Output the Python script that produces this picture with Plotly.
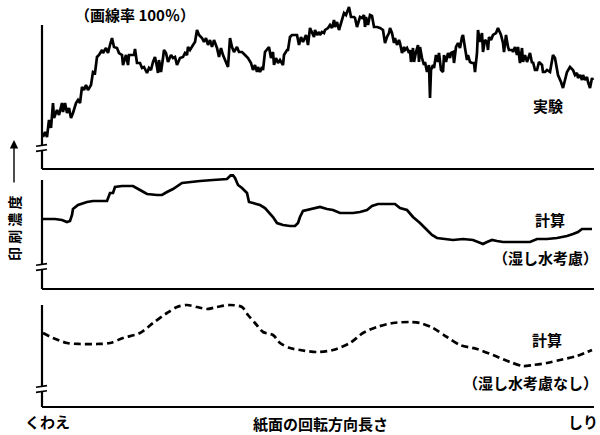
import plotly.graph_objects as go

# Position along the paper rotation direction (mm from the gripper edge)
exp_x = [1, 3, 5, 7, 9, 11, 12, 15, 17, 20, 21, 23, 25, 27, 29, 31, 34, 36, 38, 40,
         42, 44, 46, 49, 51, 53, 55, 57, 60, 61, 64, 66, 68, 70, 72, 75, 77, 80, 81, 84,
         86, 87, 90, 92, 93, 95, 98, 100, 102, 105, 107, 109, 111, 113, 115, 116, 117, 119, 121, 122,
         124, 126, 129, 131, 133, 135, 138, 141, 143, 145, 146, 148, 151, 153, 155, 157, 160, 162, 164, 166,
         168, 170, 172, 175, 177, 179, 181, 184, 186, 188, 190, 192, 195, 197, 200, 203, 206, 209, 211, 213,
         215, 216, 218, 220, 221, 223, 225, 227, 229, 231, 232, 234, 236, 238, 241, 242, 245, 246, 248, 250,
         253, 255, 257, 259, 261, 264, 266, 268, 272, 273, 275, 277, 278, 280, 282, 283, 286, 288, 290, 292,
         293, 295, 297, 298, 301, 302, 304, 307, 308, 309, 312, 313, 315, 317, 318, 320, 322, 323, 324, 326,
         328, 330, 332, 335, 338, 341, 343, 345, 347, 348, 350, 352, 353, 355, 357, 358, 360, 362, 363, 365,
         367, 368, 369, 371, 372, 374, 376, 377, 378, 380, 382, 383, 385, 387, 388, 389, 391, 392, 394, 396,
         397, 399, 401, 402, 404, 406, 408, 409, 411, 412, 414, 416, 418, 420, 421, 423, 425, 426, 428, 430,
         432, 433, 435, 436, 438, 440, 441, 443, 445, 446, 447, 449, 451, 454, 456, 459, 461, 462, 464, 466,
         467, 470, 471, 473, 475, 476, 478, 480, 481, 483, 485, 488, 490, 491, 493, 495, 497, 500, 501, 503,
         505, 508, 510, 511, 513, 515, 516, 519, 521, 523, 525, 528, 531, 533, 535, 536, 538, 540, 541, 543,
         545, 546, 548, 550, 551]
# Measured print density (arbitrary units)
exp_y = [32, 37, 32, 49, 41, 66, 51, 59, 54, 66, 57, 66, 56, 61, 51, 56, 66, 69, 66, 82,
         79, 84, 79, 84, 97, 96, 112, 114, 119, 116, 121, 116, 124, 131, 122, 121, 116, 114, 104, 114,
         104, 114, 114, 114, 120, 106, 106, 101, 102, 96, 101, 99, 107, 112, 102, 96, 109, 97, 111, 119,
         116, 107, 114, 111, 112, 104, 111, 112, 116, 114, 122, 119, 124, 127, 139, 134, 131, 127, 131, 124,
         129, 122, 129, 121, 112, 121, 114, 107, 102, 131, 122, 117, 122, 117, 117, 114, 111, 106, 99, 104,
         97, 102, 97, 102, 99, 117, 119, 122, 111, 117, 104, 111, 106, 109, 104, 114, 119, 119, 132, 134,
         134, 134, 124, 132, 127, 134, 124, 141, 132, 139, 134, 137, 134, 137, 136, 139, 141, 144, 141, 149,
         142, 147, 139, 142, 151, 156, 154, 162, 157, 152, 152, 151, 142, 149, 152, 151, 154, 142, 152, 144,
         154, 153, 142, 142, 141, 139, 126, 132, 136, 141, 136, 126, 131, 124, 129, 126, 116, 122, 119, 121,
         116, 119, 107, 121, 107, 117, 124, 107, 122, 111, 104, 107, 97, 104, 71, 99, 104, 101, 114, 107,
         116, 99, 97, 114, 107, 116, 111, 116, 117, 106, 122, 126, 121, 132, 134, 121, 109, 114, 107, 106,
         106, 97, 116, 139, 127, 136, 117, 129, 127, 119, 132, 129, 134, 136, 141, 134, 126, 117, 134, 122,
         119, 119, 117, 122, 114, 122, 106, 121, 107, 114, 107, 116, 106, 107, 99, 99, 107, 104, 97, 97,
         99, 97, 107, 114, 111, 97, 94, 87, 81, 89, 97, 102, 99, 94, 96, 91, 94, 89, 94, 89,
         92, 87, 81, 91, 89]

# Calculated density, dampening water taken into account
calc_w_x = [1, 13, 20, 25, 28, 30, 31, 36, 45, 51, 65, 68, 71, 73, 80, 91, 98, 105, 115, 120,
            125, 131, 140, 148, 158, 171, 185, 190, 193, 196, 200, 205, 207, 211, 218, 223, 228, 231, 235, 241,
            248, 253, 256, 258, 261, 265, 271, 278, 285, 291, 298, 305, 311, 318, 325, 330, 336, 345, 353, 358,
            365, 371, 378, 385, 390, 395, 401, 411, 421, 431, 436, 441, 445, 450, 455, 461, 468, 478, 488, 495,
            505, 515, 525, 531, 536, 540, 545, 550]
calc_w_y = [70, 70, 69, 67, 68, 74, 80, 84, 87, 88, 88, 96, 96, 102, 103, 103, 99, 95, 94, 94,
            97, 100, 106, 107, 108, 109, 110, 115, 111, 104, 101, 96, 87, 86, 84, 81, 76, 72, 66, 64,
            63, 63, 66, 72, 78, 79, 81, 82, 80, 79, 76, 76, 76, 77, 79, 83, 85, 85, 85, 81,
            79, 72, 66, 59, 54, 51, 50, 49, 50, 49, 47, 45, 47, 49, 48, 47, 47, 47, 47, 50,
            50, 51, 53, 55, 57, 60, 60, 60]

# Calculated density, dampening water not taken into account
calc_n_x = [1, 11, 25, 38, 55, 68, 81, 98, 111, 125, 135, 145, 155, 165, 175, 188, 200, 206, 213, 221,
            231, 238, 248, 258, 275, 291, 308, 321, 335, 351, 368, 378, 391, 405, 418, 435, 451, 468, 481, 491,
            505, 518, 535, 550]
calc_n_y = [74, 69, 64, 63, 63, 64, 69, 74, 84, 94, 100, 102, 100, 98, 100, 102, 100, 92, 84, 75,
            72, 64, 59, 57, 55, 57, 64, 74, 80, 84, 85, 84, 79, 70, 62, 58, 52, 45, 41, 42,
            44, 47, 51, 57]

W, H = 600, 435
X_LEFT, X_RIGHT = 42, 594          # horizontal extent of every panel (px)
X_MAX = X_RIGHT - X_LEFT           # paper length shown (mm)
PAD = 8                            # room left of / below the axes for the axis marks

# bottom px, top-of-range px, top of drawn y axis (data units), axis-break level
panels = [
    dict(bottom=169, top=5, ytop=144, brk=21),
    dict(bottom=289, top=174, ytop=109, brk=22),
    dict(bottom=407, top=297, ytop=102, brk=18),
]

def px(x):
    return x / W

def py(y):
    return 1 - y / H

fig = go.Figure()
series = [(exp_x, exp_y, "solid", "linear"),
          (calc_w_x, calc_w_y, "solid", "linear"),
          (calc_n_x, calc_n_y, "7px,4px", "spline")]

layout = dict(width=W, height=H, margin=dict(l=0, r=0, t=0, b=0),
              paper_bgcolor="white", plot_bgcolor="white", showlegend=False)
shapes = []
ink = "black"

for i, (p, (xs, ys, dash, shape)) in enumerate(zip(panels, series), start=1):
    sfx = "" if i == 1 else str(i)
    xa, ya = "x" + sfx, "y" + sfx
    line = dict(color=ink, width=2.7, dash=dash, shape=shape)
    if shape == "spline":
        line["smoothing"] = 0.8
    fig.add_trace(go.Scatter(x=xs, y=ys, mode="lines", xaxis=xa, yaxis=ya,
                             line=line, hoverinfo="skip"))
    layout["xaxis" + sfx] = dict(domain=[px(X_LEFT - PAD), px(X_RIGHT + 2)],
                                 range=[-PAD, X_MAX + 2],
                                 visible=False, anchor=ya, fixedrange=True)
    layout["yaxis" + sfx] = dict(domain=[py(p["bottom"] + 4), py(p["top"])],
                                 range=[-4, p["bottom"] - p["top"]],
                                 visible=False, anchor=xa, fixedrange=True)
    # x axis line
    shapes.append(dict(type="line", xref=xa, yref=ya, x0=0, x1=X_MAX, y0=0, y1=0,
                       line=dict(color=ink, width=2.2)))
    # y axis line
    shapes.append(dict(type="line", xref=xa, yref=ya, x0=0, x1=0, y0=0, y1=p["ytop"],
                       line=dict(color=ink, width=2.2)))
    # axis break: white gap bounded by two short slanted strokes
    b = p["brk"]
    shapes.append(dict(type="rect", xref=xa, yref=ya, x0=-3, x1=3, y0=b - 2.2, y1=b + 2.2,
                       fillcolor="white", line=dict(width=0), layer="above"))
    for off in (-2.6, 2.6):
        shapes.append(dict(type="line", xref=xa, yref=ya, x0=-6, x1=5,
                           y0=b + off - 0.8, y1=b + off + 0.8,
                           line=dict(color=ink, width=1.6), layer="above"))

layout["shapes"] = shapes

font = dict(family="Noto Sans CJK JP, sans-serif", color=ink, weight="bold")

def label(text, x, y, size, **kw):
    return dict(text=text, x=px(x), y=py(y), xref="paper", yref="paper",
                showarrow=False, font=dict(size=size, **font), xanchor="center",
                yanchor="middle", **kw)

annotations = [
    label("（画線率 100％）", 135, 15, 15),
    label("実験", 548, 106, 15),
    label("計算", 550, 219, 15),
    label("（湿し水考慮）", 545, 257, 15),
    label("計算", 547, 339, 15),
    label("（湿し水考慮なし）", 530, 382, 15),
    label("くわえ", 47, 421, 15),
    label("紙面の回転方向長さ", 320, 423, 15),
    label("しり", 583, 421, 15),
    label("印 刷 濃 度", 14, 228, 14, textangle=-90),
    # upward arrow along the density label
    dict(x=px(14), y=py(140), ax=0, ay=44, xref="paper", yref="paper",
         axref="pixel", ayref="pixel", text="", showarrow=True, arrowhead=2,
         arrowsize=1.2, arrowwidth=1.4, arrowcolor=ink),
]
layout["annotations"] = annotations

fig.update_layout(**layout)
fig.write_html("out.html", config=dict(displayModeBar=False))
